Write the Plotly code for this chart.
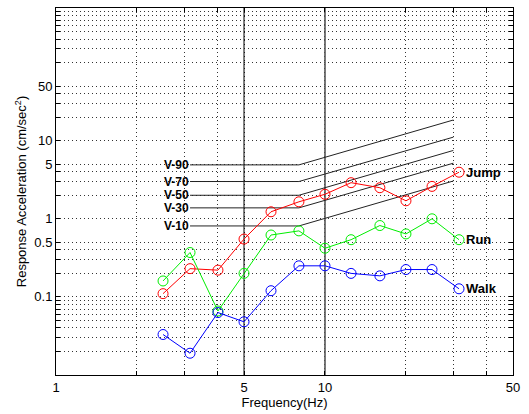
import numpy as np
import plotly.graph_objects as go

# ---------------- data ----------------
freq = [2.5, 3.15, 4, 5, 6.3, 8, 10, 12.5, 16, 20, 25, 31.5]
jump = [0.11, 0.23, 0.22, 0.55, 1.23, 1.65, 2.06, 2.9, 2.5, 1.7, 2.6, 3.95]
run = [0.16, 0.37, 0.066, 0.2, 0.62, 0.7, 0.42, 0.54, 0.82, 0.64, 1.0, 0.54]
walk = [0.033, 0.019, 0.063, 0.048, 0.12, 0.25, 0.25, 0.2, 0.186, 0.224, 0.224, 0.127]

series_names = ["Jump", "Run", "Walk"]
series_colors = ["#ff0000", "#00ee00", "#0000ff"]

v_names = ["V-90", "V-70", "V-50", "V-30", "V-10"]
v_freq = [3.15, 8, 30]
v_vals = [
    [4.9, 4.9, 18.4],
    [3.0, 3.0, 11.1],
    [2.0, 2.0, 7.5],
    [1.38, 1.38, 5.15],
    [0.81, 0.81, 3.05],
]

ref_freqs = [5, 10]

x_tickvals = [1, 2, 3, 4, 5, 10, 20, 30, 40, 50]
x_ticktext = ["1", "", "", "", "5", "10", "", "", "", "50"]
y_tickvals = [0.02, 0.03, 0.04, 0.05, 0.06, 0.07, 0.08, 0.09,
              0.1, 0.2, 0.3, 0.4, 0.5, 1, 2, 3, 4, 5,
              10, 20, 30, 40, 50, 100, 150, 200, 250, 300, 350, 400, 450]
y_ticktext = ["", "", "", "", "", "", "", "",
              "0.1", "", "", "", "0.5", "1", "", "", "", "5",
              "10", "", "", "", "50", "", "", "", "", "", "", "", ""]

FONT = "Liberation Sans, Arial, sans-serif"

fig = go.Figure()

# reference vertical lines
for f, c, w in zip(ref_freqs, ["#000000", "#555555"], [1, 1.6]):
    fig.add_trace(go.Scatter(x=[f, f], y=[0.01, 500], mode="lines",
                             line=dict(color=c, width=w), hoverinfo="skip",
                             showlegend=False))

# V curves
for name, vals in zip(v_names, v_vals):
    fig.add_trace(go.Scatter(x=v_freq, y=vals, mode="lines",
                             line=dict(color="#222222", width=1),
                             showlegend=False, hoverinfo="skip"))
    fig.add_annotation(x=np.log10(v_freq[0]), y=np.log10(vals[0]), text="<b>" + name + "</b>",
                       xanchor="right", yanchor="middle", showarrow=False, xshift=1,
                       font=dict(family=FONT, size=12, color="black"))

# data series
for name, vals, col in zip(series_names, [jump, run, walk], series_colors):
    fig.add_trace(go.Scatter(x=freq, y=vals, mode="lines+markers", name=name,
                             line=dict(color=col, width=1),
                             marker=dict(symbol="circle-open", size=10, color=col,
                                         line=dict(width=1, color=col)),
                             showlegend=False))
    fig.add_annotation(x=np.log10(freq[-1]), y=np.log10(vals[-1]), text="<b>" + name + "</b>",
                       xanchor="left", yanchor="middle", showarrow=False, xshift=5,
                       font=dict(family=FONT, size=13, color="black"))

axis_common = dict(
    showline=True, linecolor="black", linewidth=1, mirror="ticks",
    ticks="inside", ticklen=4, tickcolor="black",
    showgrid=True, gridcolor="#333333", gridwidth=1, griddash="1px,3px",
    zeroline=False, tickfont=dict(family=FONT, size=13, color="black"),
    automargin=False,
)

fig.update_xaxes(type="log", range=[0, np.log10(50)],
                 tickvals=x_tickvals, ticktext=x_ticktext,
                 title=dict(text="Frequency(Hz)", font=dict(family=FONT, size=13, color="black"),
                            standoff=4),
                 **axis_common)
fig.update_yaxes(type="log", range=[-2, np.log10(500)],
                 tickvals=y_tickvals, ticktext=y_ticktext,
                 title=dict(text="Response Acceleration (cm/sec<sup>2</sup>)",
                            font=dict(family=FONT, size=13, color="black"), standoff=4),
                 **axis_common)

fig.update_layout(
    width=529, height=414,
    margin=dict(l=56, r=16, t=8, b=39),
    paper_bgcolor="white", plot_bgcolor="white",
    font=dict(family=FONT, size=13, color="black"),
    showlegend=False,
)

fig.write_html("out.html", config={"displayModeBar": False},
               post_script="document.body.style.margin='0px';")
